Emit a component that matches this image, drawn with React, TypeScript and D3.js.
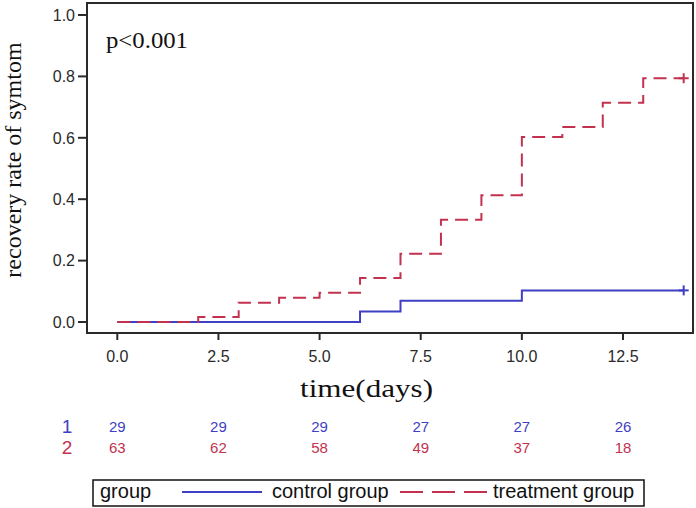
import React from 'react';
import * as d3 from 'd3';

const controlTimes = [0, 6, 7, 10, 14];
const controlRates = [0, 0.034, 0.069, 0.103, 0.103];
const treatTimes = [0, 2, 3, 4, 5, 6, 7, 8, 9, 10, 11, 12, 13, 14];
const treatRates = [0, 0.016, 0.063, 0.079, 0.095, 0.143, 0.222, 0.333, 0.413, 0.603, 0.635, 0.714, 0.794, 0.794];
const xTicks = [0, 2.5, 5, 7.5, 10, 12.5];
const yTicks = [0, 0.2, 0.4, 0.6, 0.8, 1.0];
const riskControl = [29, 29, 29, 27, 27, 26];
const riskTreatment = [63, 62, 58, 49, 37, 18];
const groups = ['control group', 'treatment group'];

const BLUE = '#3f3fc4';
const RED = '#c2324f';
const AXIS = '#2a2a2a';
const SANS = '"Liberation Sans", Arial, sans-serif';
const SERIF = '"Liberation Serif", "Times New Roman", serif';

export default function App() {
  const x = d3.scaleLinear().domain([0, 12.5]).range([117.3, 623]);
  const y = d3.scaleLinear().domain([0, 1]).range([322, 15]);
  const line = d3
    .line<[number, number]>()
    .x((d) => x(d[0]))
    .y((d) => y(d[1]))
    .curve(d3.curveStepAfter);

  const ctrl: [number, number][] = controlTimes.map((t, i) => [t, controlRates[i]]);
  const trt: [number, number][] = treatTimes.map((t, i) => [t, treatRates[i]]);
  const frame = { l: 87, t: 3, r: 693, b: 333 };

  const censor = (pt: [number, number], color: string) => {
    const cx = x(pt[0]);
    const cy = y(pt[1]);
    return (
      <g stroke={color} strokeWidth={2}>
        <line x1={cx} x2={cx} y1={cy - 5} y2={cy + 5} />
        <line x1={cx - 5} x2={cx + 5} y1={cy} y2={cy} />
      </g>
    );
  };

  return (
    <div style={{ position: 'absolute', left: 0, top: 0 }}>
      <svg width={696} height={508} style={{ display: 'block', background: '#fff' }}>
        {/* frame */}
        <rect
          x={frame.l}
          y={frame.t}
          width={frame.r - frame.l}
          height={frame.b - frame.t}
          fill="none"
          stroke={AXIS}
          strokeWidth={2}
        />
        {/* y ticks */}
        {yTicks.map((v) => (
          <g key={'y' + v}>
            <line x1={frame.l - 9} x2={frame.l} y1={y(v)} y2={y(v)} stroke={AXIS} strokeWidth={2} />
            <text
              x={frame.l - 12}
              y={y(v)}
              dy="0.36em"
              textAnchor="end"
              fontFamily={SANS}
              fontSize={16}
              fill={AXIS}
            >
              {v.toFixed(1)}
            </text>
          </g>
        ))}
        {/* x ticks */}
        {xTicks.map((v) => (
          <g key={'x' + v}>
            <line x1={x(v)} x2={x(v)} y1={frame.b} y2={frame.b + 7} stroke={AXIS} strokeWidth={2} />
            <text x={x(v)} y={362} textAnchor="middle" fontFamily={SANS} fontSize={16} fill={AXIS}>
              {v.toFixed(1)}
            </text>
          </g>
        ))}
        {/* curves */}
        <path d={line(ctrl) || ''} fill="none" stroke={BLUE} strokeWidth={2} />
        <path d={line(trt) || ''} fill="none" stroke={RED} strokeWidth={2} strokeDasharray="13,7" />
        {censor(ctrl[ctrl.length - 1], BLUE)}
        {censor(trt[trt.length - 1], RED)}
        {/* annotations */}
        <text x={106} y={48} fontFamily={SERIF} fontSize={24} fill="#111" textLength={82} lengthAdjust="spacingAndGlyphs">
          p&lt;0.001
        </text>
        <text
          transform="translate(21,160) rotate(-90)"
          textAnchor="middle"
          fontFamily={SERIF}
          fontSize={24}
          fill="#111"
        >
          recovery rate of symtom
        </text>
        <text x={300} y={397} fontFamily={SERIF} fontSize={26} fill="#111" textLength={133} lengthAdjust="spacingAndGlyphs">
          time(days)
        </text>
        {/* risk table */}
        <text x={67} y={433} textAnchor="middle" fontFamily={SANS} fontSize={19} fill={BLUE}>1</text>
        <text x={67} y={454} textAnchor="middle" fontFamily={SANS} fontSize={19} fill={RED}>2</text>
        {xTicks.map((v, i) => (
          <g key={'r' + v} fontFamily={SANS} fontSize={15} textAnchor="middle">
            <text x={x(v)} y={432} fill={BLUE}>{riskControl[i]}</text>
            <text x={x(v)} y={453} fill={RED}>{riskTreatment[i]}</text>
          </g>
        ))}
        {/* legend */}
        <rect x={93} y={480} width={551} height={26} fill="none" stroke="#111" strokeWidth={1.5} />
        <text x={100} y={498} fontFamily={SANS} fontSize={20} fill="#111">group</text>
        <line x1={182} x2={262} y1={492} y2={492} stroke={BLUE} strokeWidth={2} />
        <text x={272} y={498} fontFamily={SANS} fontSize={20} fill="#111">{groups[0]}</text>
        <line x1={400} x2={488} y1={492} y2={492} stroke={RED} strokeWidth={2} strokeDasharray="23,9" />
        <text x={493} y={498} fontFamily={SANS} fontSize={20} fill="#111">{groups[1]}</text>
      </svg>
    </div>
  );
}
